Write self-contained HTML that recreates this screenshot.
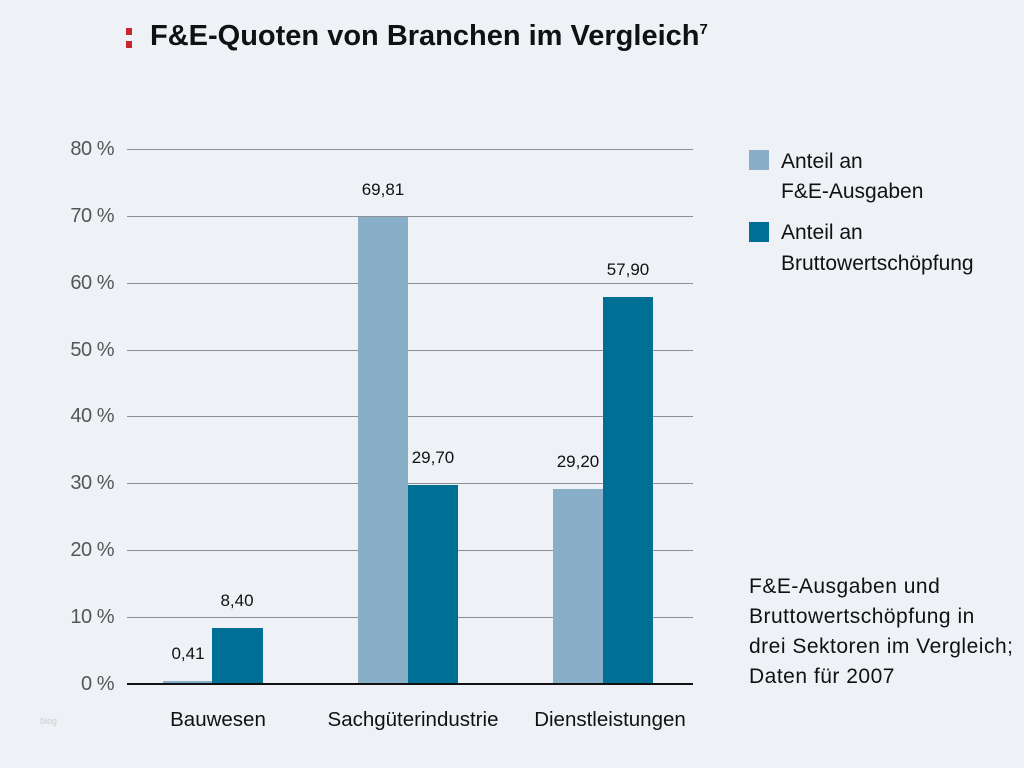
<!DOCTYPE html>
<html><head><meta charset="utf-8"><style>
body{margin:0;width:1024px;height:768px;background:#eef2f6;font-family:"Liberation Sans",Arial,sans-serif;position:relative;overflow:hidden}
.a{position:absolute;white-space:nowrap}
.g{position:absolute;left:127px;width:566px;height:1px;background:#8c8f94}
.yl{position:absolute;right:910px;font-size:20px;color:#555;line-height:20px;letter-spacing:-0.5px}
.b{position:absolute}
.l{background:#89afc8}.d{background:#006f95}
.v{position:absolute;font-size:17px;color:#111;width:60px;text-align:center;line-height:20px}
.c{position:absolute;font-size:20.5px;color:#111;text-align:center;width:220px;line-height:22px}
.t{position:absolute;left:781px;font-size:21px;color:#111;line-height:22px}
</style></head><body>
<div class="a" style="left:126px;top:28px;width:6px;height:7px;background:#c8262e"></div>
<div class="a" style="left:126px;top:41px;width:6px;height:7px;background:#c8262e"></div>
<div class="a" style="left:150px;top:20px;font-size:29px;font-weight:bold;color:#111">F&amp;E-Quoten von Branchen im Vergleich<sup style="font-size:15px;vertical-align:11px">7</sup></div>

<div class="g" style="top:149px"></div><div class="g" style="top:216px"></div><div class="g" style="top:283px"></div><div class="g" style="top:350px"></div><div class="g" style="top:416px"></div><div class="g" style="top:483px"></div><div class="g" style="top:550px"></div><div class="g" style="top:617px"></div>
<div class="yl" style="top:139px">80 %</div><div class="yl" style="top:206px">70 %</div><div class="yl" style="top:273px">60 %</div><div class="yl" style="top:340px">50 %</div><div class="yl" style="top:406px">40 %</div><div class="yl" style="top:473px">30 %</div><div class="yl" style="top:540px">20 %</div><div class="yl" style="top:607px">10 %</div><div class="yl" style="top:674px">0 %</div>

<div class="b l" style="left:163px;width:49px;top:681px;height:3px"></div>
<div class="b d" style="left:212px;width:51px;top:628px;height:56px"></div>
<div class="b l" style="left:358px;width:50px;top:217px;height:467px"></div>
<div class="b d" style="left:408px;width:50px;top:485px;height:199px"></div>
<div class="b l" style="left:553px;width:50px;top:489px;height:195px"></div>
<div class="b d" style="left:603px;width:50px;top:297px;height:387px"></div>
<div class="a" style="left:127px;top:683px;width:566px;height:2px;background:#111"></div>

<div class="v" style="left:158px;top:644px">0,41</div>
<div class="v" style="left:207px;top:591px">8,40</div>
<div class="v" style="left:353px;top:180px">69,81</div>
<div class="v" style="left:403px;top:448px">29,70</div>
<div class="v" style="left:548px;top:452px">29,20</div>
<div class="v" style="left:598px;top:260px">57,90</div>

<div class="c" style="left:108px;top:709px">Bauwesen</div>
<div class="c" style="left:303px;top:709px">Sachgüterindustrie</div>
<div class="c" style="left:500px;top:709px">Dienstleistungen</div>
<div class="a" style="left:40px;top:716px;font-size:9px;color:#ccc">blog</div>

<div class="b l" style="left:749px;top:150px;width:20px;height:20px"></div>
<div class="b d" style="left:749px;top:222px;width:20px;height:20px"></div>
<div class="t" style="top:151px">Anteil an</div>
<div class="t" style="top:181px">F&amp;E-Ausgaben</div>
<div class="t" style="top:222px">Anteil an</div>
<div class="t" style="top:253px">Bruttowertschöpfung</div>
<div class="a" style="left:749px;top:572px;font-size:21px;letter-spacing:0.5px;color:#111;line-height:30px">F&amp;E-Ausgaben und<br>Bruttowertschöpfung in<br>drei Sektoren im Vergleich;<br>Daten für 2007</div>
</body></html>
